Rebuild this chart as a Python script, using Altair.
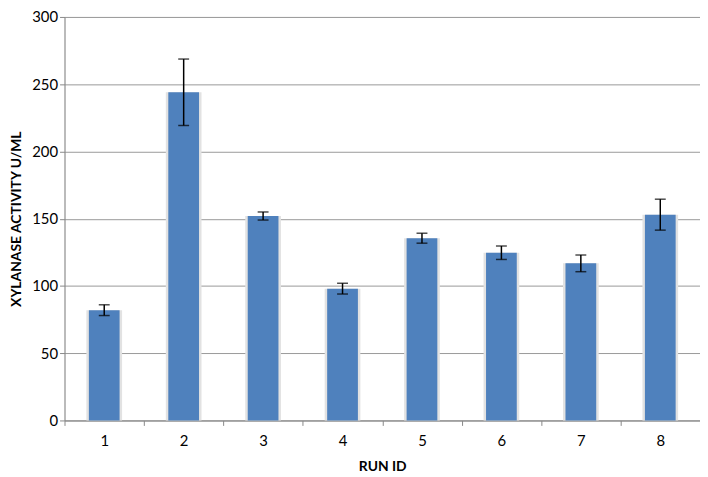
import altair as alt
import pandas as pd

runs = ["1", "2", "3", "4", "5", "6", "7", "8"]
activity = [82, 244, 152, 98, 135.5, 124.7, 116.8, 153]
errors = [4, 24.7, 3, 4, 3.7, 5, 6.2, 11.5]

df = pd.DataFrame({"run": runs, "activity": activity, "err": errors})
df["lo"] = df["activity"] - df["err"]
df["hi"] = df["activity"] + df["err"]

FONT = "Lato"

x = alt.X("run:O", title="RUN ID", sort=runs,
          scale=alt.Scale(paddingInner=0, paddingOuter=0),
          axis=alt.Axis(labelAngle=0, tickBand="extent", labelFontSize=15,
                        labelColor="#000", titleFontSize=14, titleFontWeight="bold",
                        titlePadding=11, titleColor="#000", domainColor="#888",
                        tickColor="#888", tickSize=5, labelPadding=8, grid=False))
y = alt.Y("activity:Q", title="XYLANASE ACTIVITY U/ML",
          scale=alt.Scale(domain=[0, 300], nice=False),
          axis=alt.Axis(values=[0, 50, 100, 150, 200, 250, 300], labelFontSize=15,
                        labelColor="#000", titleFontSize=14, titleFontWeight="bold",
                        titlePadding=8, titleColor="#000", domainColor="#888",
                        tickColor="#888", tickSize=5, gridColor="#999", gridWidth=1))

base = alt.Chart(df)

shadow = base.mark_bar(size=36, color="#e2e2e2").encode(x=x, y=y)
bars = base.mark_bar(size=31, color="#4f81bd").encode(x=x, y=y)
rule = base.mark_rule(color="#000", strokeWidth=1.5).encode(
    x=alt.X("run:O", sort=runs), y="lo:Q", y2="hi:Q")
cap_lo = base.mark_tick(color="#000", thickness=1.5, size=11, orient="horizontal").encode(
    x=alt.X("run:O", sort=runs), y="lo:Q")
cap_hi = base.mark_tick(color="#000", thickness=1.5, size=11, orient="horizontal").encode(
    x=alt.X("run:O", sort=runs), y="hi:Q")

chart = alt.layer(shadow, bars, rule, cap_lo, cap_hi).properties(
    width=641, height=407,
    autosize=alt.AutoSizeParams(type="none"),
    padding={"left": 57, "top": 7, "right": 0, "bottom": 54},
).configure_view(stroke=None).configure(font=FONT)

chart.save("out.html", embed_options={"renderer": "svg", "actions": False})
